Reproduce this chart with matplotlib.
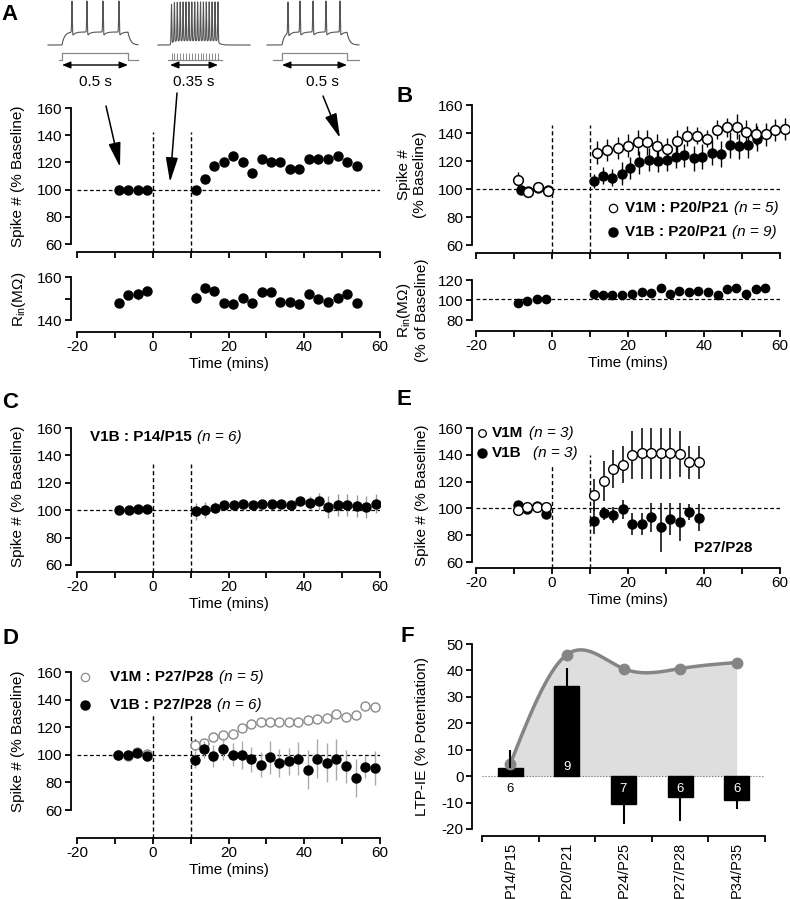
import numpy as np
import matplotlib
matplotlib.use("Agg")
import matplotlib.pyplot as plt

plt.rcParams['font.family'] = ['Liberation Sans', 'DejaVu Sans']
plt.rcParams['mathtext.fontset'] = 'custom'
plt.rcParams['mathtext.rm'] = 'Liberation Sans'
plt.rcParams['mathtext.it'] = 'Liberation Sans:italic'
plt.rcParams['mathtext.bf'] = 'Liberation Sans:bold'

# ---------------- data ----------------
# Panel A
A_t = [-9, -6.5, -4, -1.5, 11.3, 13.8, 16.2, 18.7, 21.2, 23.7, 26.2, 28.8, 31.3, 33.7,
       36.2, 38.7, 41.2, 43.7, 46.3, 48.8, 51.3, 53.8]
A_spike = [100, 100, 100, 100, 100, 108, 117.6, 120, 125, 120, 112.5, 122.5, 120, 120,
           115.2, 115.2, 122.5, 122.5, 122.5, 125, 120, 117.4]
A_spike_err = [1, 1, 1, 1, 1, 2, 2, 2, 2, 2, 3, 2, 2, 2, 3, 2, 2, 2, 2, 2, 2, 2]
A_rin = [147.9, 151.6, 151.9, 153.6, 150.4, 154.8, 153.6, 148.1, 147.3, 150.4, 147.7, 153,
         153, 148.6, 148.3, 147.3, 152.1, 149.6, 148.6, 150.4, 151.9, 147.7]
A_rin_err = [1.5, 1.2, 2.5, 1, 2.5, 1, 1, 1.5, 2, 1.5, 1.5, 1, 1, 1.5, 1.5, 2, 1.5, 1.5,
             1.5, 2, 2, 1.5]

# Panel B
B_m_t = [-8.9, -6.2, -3.6, -1.0, 11.9, 14.6, 17.3, 20.1, 22.5, 25.1, 27.7, 30.2, 32.8,
         35.4, 38.1, 40.7, 43.3, 46.0, 48.6, 51.0, 53.6, 56.2, 58.7, 61.3]
B_m_y = [106.4, 98.1, 101.2, 98.6, 126, 128, 129.5, 131, 133.5, 133.5, 131, 128.5, 134,
         138, 138, 136, 142.5, 144, 144.5, 141, 139.5, 139, 142, 143]
B_m_e = [6, 2, 2, 3, 8, 8, 8, 8, 9, 9, 8, 8, 8, 7, 6, 6, 7, 7, 9, 8, 8, 8, 8, 8]
B_b_t = [-8.2, -6.2, -3.6, -1.0, 11.05, 13.5, 15.9, 18.3, 20.5, 23.0, 25.5, 28.0, 30.2,
         32.5, 34.8, 37.4, 39.6, 42.0, 44.4, 46.8, 49.2, 51.7, 53.9]
B_b_y = [99.3, 98.5, 100.5, 99.5, 106, 109.5, 108, 111, 115, 119, 121, 120, 121, 123, 124,
         122, 123, 126, 125, 131.5, 130.5, 131.5, 136]
B_b_e = [1.5, 1.5, 1.5, 1.5, 5, 6, 6, 8, 8, 8, 8, 8, 8, 8, 8, 9, 9, 9, 9, 9, 9, 9, 9]
B_r_t = [-9.0, -6.7, -4.0, -1.7, 11.05, 13.5, 15.9, 18.3, 21.0, 23.6, 26.0, 28.6, 31.0,
         33.5, 36.0, 38.5, 41.1, 43.6, 46.0, 48.4, 51.0, 53.6, 56.0]
B_r_y = [97.5, 99.3, 100.7, 100.7, 106.5, 105.5, 105.5, 104.7, 106.5, 108, 107, 112.4,
         106.5, 108.7, 108.4, 109, 108, 105.5, 111, 111.6, 106.5, 111, 111.6]

# Panel C
C_t = [-9, -6.4, -3.9, -1.5, 11.4, 13.9, 16.4, 18.9, 21.4, 23.9, 26.4, 28.9, 31.4, 33.9,
       36.4, 38.9, 41.4, 43.9, 46.4, 48.9, 51.4, 53.9, 56.4, 58.9]
C_y = [100, 100, 100.8, 100.8, 99.2, 100, 101.8, 103.8, 103.8, 104.6, 103.8, 104.6, 104.6,
       104.6, 103.8, 106.4, 105.6, 106.4, 102.4, 103.8, 103.8, 103.1, 102.4, 104.8]
C_e = [1, 1, 1, 1, 6, 6, 4, 3, 3, 3, 3, 3, 3, 3, 3, 3, 5, 6, 8, 8, 8, 8, 8, 7]

# Panel D
D_t = [-9.3, -6.6, -4.1, -1.5, 11.2, 13.6, 16.0, 18.5, 21.1, 23.5, 26.0, 28.5, 31.0, 33.4,
       36.0, 38.4, 40.9, 43.4, 45.9, 48.5, 51.0, 53.6, 56.0, 58.6]
D_m_y = [100, 99, 102, 100.7, 107.2, 108.4, 112.8, 114, 115.2, 119.3, 122.4, 123.6, 123.6,
         124.1, 124.1, 124.1, 125.5, 126, 126.7, 129.6, 127.7, 129.2, 135.2, 134.5]
D_m_e = [1, 1, 1, 1, 4, 3, 3, 3, 3, 2, 2, 1.5, 1.5, 1.5, 1.5, 1.5, 1.5, 1.5, 1.5, 2, 2, 2,
         3, 3]
D_b_y = [100, 99.5, 101, 98.8, 96.4, 103.9, 99, 104.3, 100.2, 100, 96.6, 92.8, 98.3, 94.2,
         95.2, 97.1, 89.2, 97.1, 94.2, 96.6, 91.6, 83.1, 91.1, 90.4]
D_b_e = [1, 1, 1, 2, 6, 6, 8, 8, 8, 10, 9, 9, 12, 10, 10, 12, 14, 14, 14, 15, 12, 14, 8, 12]

# Panel E
E_t = [-9, -6.7, -4.0, -1.7, 11.1, 13.7, 16.1, 18.6, 21.1, 23.6, 26.1, 28.7, 31.1, 33.7,
       36.1, 38.7]
E_m_y = [98.8, 100.8, 101.0, 101.2, 110.3, 120.3, 129.4, 132.6, 139.7, 141.7, 141.7, 141.7,
         141.7, 140.4, 134.3, 134.3]
E_m_e = [1, 1, 1, 1, 12, 15, 14, 14, 18, 20, 20, 20, 20, 17, 12, 12]
E_b_y = [102.5, 99.2, 101.5, 95.8, 90.7, 96.3, 95.1, 99.3, 88.5, 88.2, 93.4, 85.8, 92.2,
         89.7, 97.0, 93.1]
E_b_e = [1, 1, 1, 4, 10, 5, 6, 7, 8, 8, 11, 18, 12, 14, 6, 10]

# Panel F
F_labels = ['P14/P15', 'P20/P21', 'P24/P25', 'P27/P28', 'P34/P35']
F_bar = [3, 34, -10.5, -8, -9]
F_err = [7, 7, 7.5, 9, 3.5]
F_n = ['6', '9', '7', '6', '6']
F_curve = [4.7, 46, 40.7, 40.7, 43]

# illustration spike trains (schematic, in figure pixels)
TR1_spikes = [72, 87, 103, 119]
TR2_spikes = [171.5, 174.4, 177.3, 180.2, 183.1, 186.0, 188.9, 191.8, 194.7, 197.6, 200.5,
              203.4, 206.3, 209.2, 212.1, 215.0, 217.9]
TR3_spikes = [288, 300, 313, 326, 340]

# ---------------- figure ----------------
W, H = 790, 899
fig = plt.figure(figsize=(W / 100, H / 100), dpi=100)
PT = 72 / 100
FS = 11
DASH = (0, (3, 2))


def px_axes(x0, x1, y0, y1):
    return fig.add_axes([x0 / W, 1 - y1 / H, (x1 - x0) / W, (y1 - y0) / H])


def style_time(ax, ylim, yticks, ylabels, yoff, xoff, xlabels=True):
    ax.set_xlim(-20, 60)
    ax.set_ylim(*ylim)
    for s in ['top', 'right']:
        ax.spines[s].set_visible(False)
    ax.spines['left'].set_position(('outward', yoff * PT))
    ax.spines['bottom'].set_position(('outward', xoff * PT))
    for s in ['left', 'bottom']:
        ax.spines[s].set_linewidth(1.3)
    ax.set_xticks(np.arange(-20, 61, 10))
    if xlabels:
        ax.set_xticklabels([str(v) if v % 20 == 0 else '' for v in range(-20, 61, 10)])
        ax.set_xlabel('Time (mins)', fontsize=FS, labelpad=2)
    else:
        ax.set_xticklabels([])
    ax.set_yticks(yticks)
    ax.set_yticklabels(ylabels)
    ax.tick_params(direction='out', length=4, width=1.3, labelsize=FS, pad=2)
    ax.patch.set_alpha(0)


def vlines(ax, tops, xoff, ax_h_px):
    y0, y1 = ax.get_ylim()
    ext = y0 - xoff * (y1 - y0) / ax_h_px
    for x, top in zip([0, 10], tops):
        ax.plot([x, x], [ext, top], ls=DASH, lw=1.0, color='k', clip_on=False, zorder=1)


def T(x, y, s, **kw):
    kw.setdefault('fontsize', FS)
    return fig.text(x / W, 1 - y / H, s, **kw)


def mixed(x, y, bold, ital, fs=FS, gap=4):
    t1 = T(x, y, bold, fontweight='bold', va='center', ha='left', fontsize=fs)
    a = ax_ov.annotate(ital, xy=(1, 0.5), xycoords=t1, xytext=(gap, 0),
                       textcoords='offset points', va='center', ha='left',
                       fontsize=fs, fontstyle='italic')
    return t1, a


# overlay axes in pixel coordinates
ax_ov = fig.add_axes([0, 0, 1, 1], zorder=20)
ax_ov.set_xlim(0, W)
ax_ov.set_ylim(H, 0)
ax_ov.axis('off')
ax_ov.patch.set_alpha(0)

# ---- Panel A main ----
axA = px_axes(77, 380, 108, 244)
style_time(axA, (60, 160), [60, 80, 100, 120, 140, 160], ['60', '80', '100', '120', '140', '160'],
           6, 8, xlabels=False)
axA.axhline(100, ls=DASH, lw=0.9, color='k', zorder=1)
vlines(axA, [142, 142], 8, 136)
axA.errorbar(A_t, A_spike, yerr=A_spike_err, fmt='o', ms=6.5, mfc='k', mec='k',
             ecolor='#999999', elinewidth=1, capsize=0, zorder=3)
T(18, 176, 'Spike # (% Baseline)', rotation=90, ha='center', va='center')

# ---- Panel A Rin ----
axAr = px_axes(77, 380, 277, 320)
style_time(axAr, (140, 160), [140, 150, 160], ['140', '', '160'], 6, 12)
axAr.errorbar(A_t, A_rin, yerr=A_rin_err, fmt='o', ms=6.5, mfc='k', mec='k',
              ecolor='#999999', elinewidth=1, capsize=0, zorder=3)
T(19, 299, 'R$_{\\rm in}$(MΩ)', rotation=90, ha='center', va='center')

# ---- Panel B main ----
axB = px_axes(476, 780, 105, 245)
style_time(axB, (60, 160), [60, 80, 100, 120, 140, 160], ['60', '80', '100', '120', '140', '160'],
           4, 8, xlabels=False)
axB.axhline(100, ls=DASH, lw=0.9, color='k', zorder=1)
vlines(axB, [146, 146], 8, 140)
axB.errorbar(B_b_t, B_b_y, yerr=B_b_e, fmt='o', ms=6.5, mfc='k', mec='k',
             ecolor='k', elinewidth=1, capsize=0, zorder=3, clip_on=False)
axB.errorbar(B_m_t, B_m_y, yerr=B_m_e, fmt='o', ms=7, mfc='white', mec='k', mew=1.1,
             ecolor='k', elinewidth=1, capsize=0, zorder=4, clip_on=False)
T(412, 175, 'Spike #\n(% Baseline)', rotation=90, ha='center', va='center',
  multialignment='center', linespacing=1.1)
ax_ov.plot([613], [208], 'o', ms=6, mfc='white', mec='k', mew=0.9)
ax_ov.plot([613], [232], 'o', ms=6.5, mfc='k', mec='k')
mixed(625, 208, 'V1M : P20/P21', '(n = 5)')
mixed(625, 232, 'V1B : P20/P21', '(n = 9)')

# ---- Panel B Rin ----
axBr = px_axes(476, 780, 280, 320)
style_time(axBr, (80, 120), [80, 100, 120], ['80', '100', '120'], 4, 11)
axBr.axhline(101, ls=DASH, lw=0.9, color='k', zorder=1)
axBr.errorbar(B_r_t, B_r_y, yerr=1, fmt='o', ms=6, mfc='k', mec='k',
              ecolor='#999999', elinewidth=1, capsize=0, zorder=3)
T(412, 310, 'R$_{\\rm in}$(MΩ)\n(% of Baseline)', rotation=90, ha='center', va='center',
  multialignment='center', linespacing=1.1)

# ---- Panel C ----
axC = px_axes(77, 380, 428, 565)
style_time(axC, (60, 160), [60, 80, 100, 120, 140, 160], ['60', '80', '100', '120', '140', '160'],
           6, 7)
axC.axhline(100, ls=DASH, lw=0.9, color='k', zorder=1)
vlines(axC, [134, 134], 7, 137)
axC.errorbar(C_t, C_y, yerr=C_e, fmt='o', ms=6.5, mfc='k', mec='k',
             ecolor='#999999', elinewidth=1, capsize=0, zorder=3)
T(18, 496, 'Spike # (% Baseline)', rotation=90, ha='center', va='center')
mixed(90, 437, 'V1B : P14/P15', '(n = 6)')

# ---- Panel E ----
axE = px_axes(476, 780, 428, 562)
style_time(axE, (60, 160), [60, 80, 100, 120, 140, 160], ['60', '80', '100', '120', '140', '160'],
           4, 6)
axE.axhline(100, ls=DASH, lw=0.9, color='k', zorder=1)
vlines(axE, [133, 140], 6, 134)
axE.errorbar(E_t, E_b_y, yerr=E_b_e, fmt='o', ms=6.5, mfc='k', mec='k',
             ecolor='k', elinewidth=1.1, capsize=0, zorder=3)
axE.errorbar(E_t, E_m_y, yerr=E_m_e, fmt='o', ms=7, mfc='white', mec='k', mew=1.0,
             ecolor='k', elinewidth=1.1, capsize=0, zorder=4)
T(422, 495, 'Spike # (% Baseline)', rotation=90, ha='center', va='center')
ax_ov.plot([482], [433], 'o', ms=5.5, mfc='white', mec='k', mew=0.9)
ax_ov.plot([482], [453], 'o', ms=6.5, mfc='k', mec='k')
mixed(492, 433, 'V1M', '(n = 3)')
mixed(492, 453, 'V1B', '(n = 3)', gap=8)
T(723, 548, 'P27/P28', fontweight='bold', ha='center', va='center')

# ---- Panel D ----
axD = px_axes(77, 380, 672, 810)
style_time(axD, (60, 160), [60, 80, 100, 120, 140, 160], ['60', '80', '100', '120', '140', '160'],
           6, 28)
axD.axhline(100, ls=DASH, lw=0.9, color='k', zorder=1)
vlines(axD, [130, 130], 28, 138)
axD.errorbar(D_t, D_m_y, yerr=D_m_e, fmt='o', ms=6.5, mfc='white', mec='#8a8a8a', mew=1.0,
             ecolor='k', elinewidth=1, capsize=0, zorder=3)
axD.errorbar(D_t, D_b_y, yerr=D_b_e, fmt='o', ms=6.5, mfc='k', mec='k',
             ecolor='#aaaaaa', elinewidth=1, capsize=0, zorder=4)
T(18, 741, 'Spike # (% Baseline)', rotation=90, ha='center', va='center')
ax_ov.plot([85], [677], 'o', ms=6, mfc='white', mec='#8a8a8a', mew=0.9)
ax_ov.plot([85], [705], 'o', ms=6.5, mfc='k', mec='k')
mixed(110, 677, 'V1M : P27/P28', '(n = 5)')
mixed(110, 705, 'V1B : P27/P28', '(n = 6)')

# ---- Panel F ----
def natural_cubic(xk, yk, xs):
    xk = np.asarray(xk, float)
    yk = np.asarray(yk, float)
    n = len(xk)
    h = np.diff(xk)
    A = np.zeros((n, n))
    r = np.zeros(n)
    A[0, 0] = A[-1, -1] = 1
    for i in range(1, n - 1):
        A[i, i - 1] = h[i - 1]
        A[i, i] = 2 * (h[i - 1] + h[i])
        A[i, i + 1] = h[i]
        r[i] = 6 * ((yk[i + 1] - yk[i]) / h[i] - (yk[i] - yk[i - 1]) / h[i - 1])
    M = np.linalg.solve(A, r)
    idx = np.clip(np.searchsorted(xk, xs) - 1, 0, n - 2)
    x0 = xk[idx]
    x1 = xk[idx + 1]
    hh = x1 - x0
    t0 = x1 - xs
    t1 = xs - x0
    return ((M[idx] * t0 ** 3 + M[idx + 1] * t1 ** 3) / (6 * hh)
            + (yk[idx] / hh - M[idx] * hh / 6) * t0
            + (yk[idx + 1] / hh - M[idx + 1] * hh / 6) * t1)


axF = px_axes(482, 765, 644, 829)
xF = np.arange(len(F_labels))
axF.set_xlim(-0.5, len(F_labels) - 0.5)
axF.set_ylim(-20, 50)
for s in ['top', 'right']:
    axF.spines[s].set_visible(False)
axF.spines['left'].set_position(('outward', 10 * PT))
axF.spines['bottom'].set_position(('outward', 7 * PT))
for s in ['left', 'bottom']:
    axF.spines[s].set_linewidth(1.3)
axF.set_yticks(np.arange(-20, 51, 10))
axF.set_yticklabels([str(v) for v in range(-20, 51, 10)])
axF.set_xticks(xF)
axF.set_xticklabels(F_labels, rotation=90, va='top')
axF.set_xticks(np.arange(-0.5, len(F_labels), 1), minor=True)
axF.tick_params(axis='x', which='major', length=0, pad=4, labelsize=10.5)
axF.tick_params(axis='x', which='minor', direction='out', length=4, width=1.3)
axF.tick_params(axis='y', direction='out', length=4, width=1.3, labelsize=FS, pad=2)
axF.patch.set_alpha(0)
xs = np.linspace(0, len(F_labels) - 1, 400)
ys = natural_cubic(xF, F_curve, xs)
axF.fill_between(xs, 0, ys, color='#dedede', lw=0, zorder=1)
axF.axhline(0, ls=':', lw=0.8, color='#666666', zorder=1.5)
axF.bar(xF, F_bar, width=0.44, color='k', edgecolor='k', zorder=2)
axF.plot(xs, ys, color='#858585', lw=2.5, zorder=3)
axF.plot(xF, F_curve, 'o', ms=7.5, color='#858585', zorder=3.5)
lower = [e if b < 0 else 0 for b, e in zip(F_bar, F_err)]
upper = [e if b >= 0 else 0 for b, e in zip(F_bar, F_err)]
axF.errorbar(xF, F_bar, yerr=[lower, upper], fmt='none', ecolor='k', elinewidth=1.5,
             capsize=0, zorder=4)
for i, (b, n) in enumerate(zip(F_bar, F_n)):
    if b > 20:
        axF.text(i, 3.5, n, color='white', ha='center', va='center', fontsize=9.5, zorder=5)
    elif b > 0:
        axF.text(i, -5, n, color='k', ha='center', va='center', fontsize=9.5, zorder=5)
    else:
        axF.text(i, -5, n, color='white', ha='center', va='center', fontsize=9.5, zorder=5)
T(422, 736, 'LTP-IE (% Potentiation)', rotation=90, ha='center', va='center')

# ---- panel letters ----
for lab, x, y in [('A', 1, 14), ('B', 396, 96), ('C', 2, 402), ('E', 397, 399),
                  ('D', 2, 638), ('F', 400, 637)]:
    T(x, y, lab, fontsize=16, fontweight='bold', ha='left', va='center')

# ---- illustration traces (panel A insets) ----
def vm_trace(x0, x1, on, off, spikes, base, plat, top, tau, ahp):
    x = np.linspace(x0, x1, 5000)
    v = np.full_like(x, base, dtype=float)
    m = (x >= on) & (x <= off)
    v[m] = base - (base - plat) * (1 - np.exp(-(x[m] - on) / tau))
    a = x > off
    v[a] = base - (base - plat) * np.exp(-(x[a] - off) / tau)
    for s in spikes:
        d = x - s
        v = v + np.where(d > 0, ahp * np.exp(-d / 2.5) * (1 - np.exp(-d / 0.25)), 0)
        v = v - (plat - top) * np.exp(-(d / 0.45) ** 2)
    return x, v


for (x0, x1, on, off, sp, plat, ahp) in [(48, 138, 62, 128, TR1_spikes, 32, 4.5),
                                         (158, 250, 170, 218, TR2_spikes, 39, 2.0),
                                         (267, 359, 282, 347, TR3_spikes, 32, 4.5)]:
    xv, vv = vm_trace(x0, x1, on, off, sp, 45, plat, 1, 2.5, ahp)
    ax_ov.plot(xv, vv, color='#555555', lw=0.8)

ax_ov.plot([59, 62, 62, 128, 128, 138], [60, 60, 53, 53, 60, 60], color='#888888', lw=0.9)
ax_ov.plot([273, 282, 282, 347, 347, 359], [60, 60, 53, 53, 60, 60], color='#888888', lw=0.9)
ax_ov.plot([168, 222], [60, 60], color='#888888', lw=0.9)
ax_ov.vlines(TR2_spikes, 53, 60, color='#888888', lw=0.7)

for (a, b, xc, lab) in [(62, 128, 95, '0.5 s'), (170, 218, 194, '0.35 s'),
                        (282, 347, 322, '0.5 s')]:
    ax_ov.annotate('', xy=(a, 65), xytext=(b, 65),
                   arrowprops=dict(arrowstyle='<|-|>,head_length=0.5,head_width=0.2',
                                   lw=1.0, color='k', mutation_scale=10,
                                   shrinkA=0, shrinkB=0))
    ax_ov.text(xc, 82, lab, ha='center', va='center', fontsize=FS)

for (tail, head) in [((106, 106), (120, 167)), ((177, 93), (170, 182)),
                     ((323, 96), (340, 138))]:
    ax_ov.annotate('', xy=head, xytext=tail,
                   arrowprops=dict(arrowstyle='-|>,head_length=1.0,head_width=0.25',
                                   lw=1.1, color='k', mutation_scale=15,
                                   shrinkA=0, shrinkB=0))

fig.savefig('out.png', dpi=100)
